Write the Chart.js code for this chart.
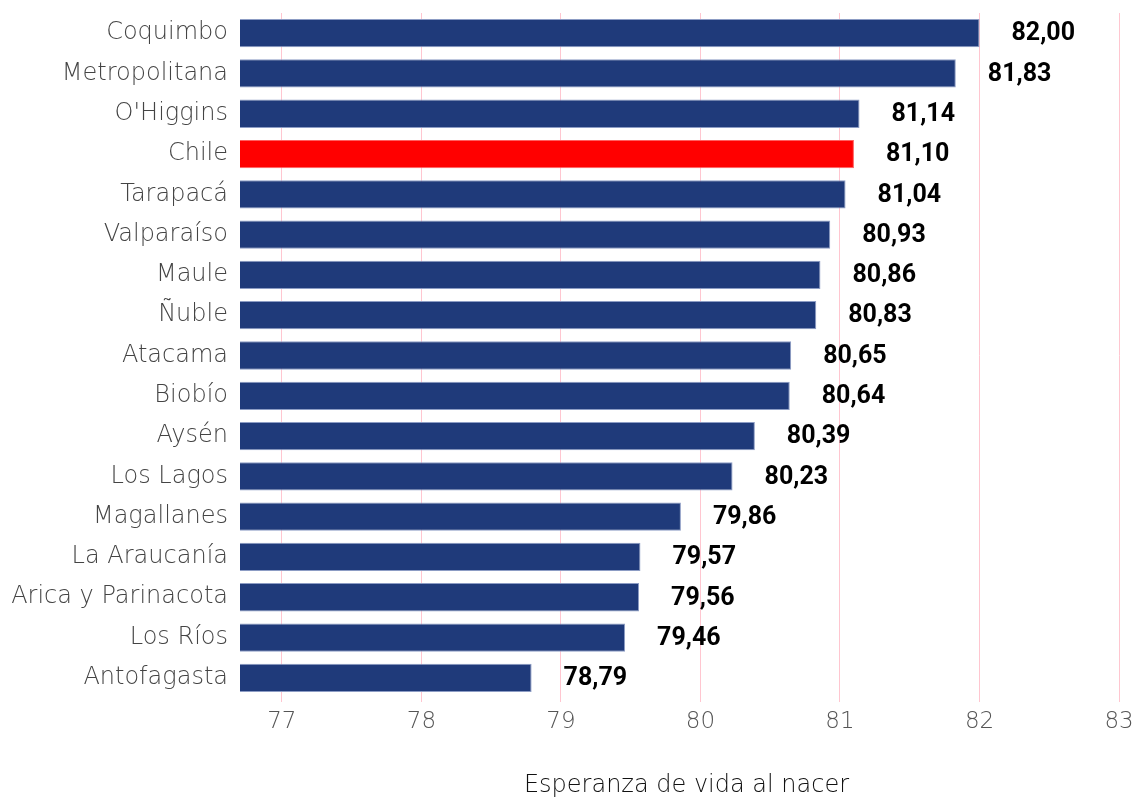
<!DOCTYPE html>
<html><head><meta charset="utf-8">
<script src="https://cdn.jsdelivr.net/npm/chart.js@4"></script>
<style>html,body{margin:0;padding:0;background:#fff}#wrap{width:1136px;height:799px}</style>
</head><body><div id="wrap"><canvas id="c"></canvas></div>
<script>
const categories = ["Coquimbo","Metropolitana","O'Higgins","Chile","Tarapacá","Valparaíso","Maule","Ñuble","Atacama","Biobío","Aysén","Los Lagos","Magallanes","La Araucanía","Arica y Parinacota","Los Ríos","Antofagasta"];
const values = [82.00,81.83,81.14,81.10,81.04,80.93,80.86,80.83,80.65,80.64,80.39,80.23,79.86,79.57,79.56,79.46,78.79];
const highlight = "Chile";
const xTicks = [77,78,79,80,81,82,83];
const axisTitle = "Esperanza de vida al nacer";

const labelFont = "'DejaVu Sans', sans-serif";
const valuePlugin = {
  id: 'valueLabels',
  afterDatasetsDraw(chart) {
    const ctx = chart.ctx;
    const meta = chart.getDatasetMeta(0);
    ctx.save();
    ctx.font = "bold 25px Roboto, sans-serif";
    ctx.fillStyle = "#000";
    ctx.textAlign = "left";
    ctx.textBaseline = "middle";
    meta.data.forEach((bar, i) => {
      ctx.fillText(values[i].toFixed(2).replace('.', ','), bar.x + 32, bar.y + 1);
    });
    ctx.restore();
  }
};

new Chart(document.getElementById('c'), {
  type: 'bar',
  data: {
    labels: categories,
    datasets: [{
      data: values,
      backgroundColor: categories.map(c => c === highlight ? '#ff0000' : '#1f3a7a'),
      borderColor: categories.map(c => c === highlight ? '#ff6060' : '#8c9cc4'),
      borderWidth: 1,
      barPercentage: 0.78,
      categoryPercentage: 0.9
    }]
  },
  options: {
    indexAxis: 'y',
    responsive: true,
    maintainAspectRatio: false,
    animation: false,
    layout: { padding: { top: 13, right: 3, bottom: 0, left: 0 } },
    plugins: { legend: { display: false }, tooltip: { enabled: false } },
    scales: {
      x: {
        min: 76.7, max: 83.1,
        afterBuildTicks(axis) { axis.ticks = xTicks.map(v => ({ value: v })); },
        afterFit(axis) { axis.height = 101; axis.paddingRight = 0; axis.paddingLeft = 0; },
        grid: { color: '#ffc6d0', lineWidth: 1, drawTicks: true, tickLength: 4 },
        border: { display: false },
        ticks: { color: '#555', font: { family: labelFont, size: 23, weight: 200 }, padding: 6 },
        title: { display: true, text: axisTitle, color: '#111', font: { family: labelFont, size: 24, weight: 200 }, padding: { top: 22, bottom: -1 } }
      },
      y: {
        grid: { display: false },
        border: { display: false },
        afterFit(axis) { axis.width = 240; axis.paddingTop = 0; axis.paddingBottom = 0; },
        ticks: { color: '#444', font: { family: labelFont, size: 24, weight: 200 }, padding: 4 }
      }
    }
  },
  plugins: [valuePlugin]
});
</script></body></html>
